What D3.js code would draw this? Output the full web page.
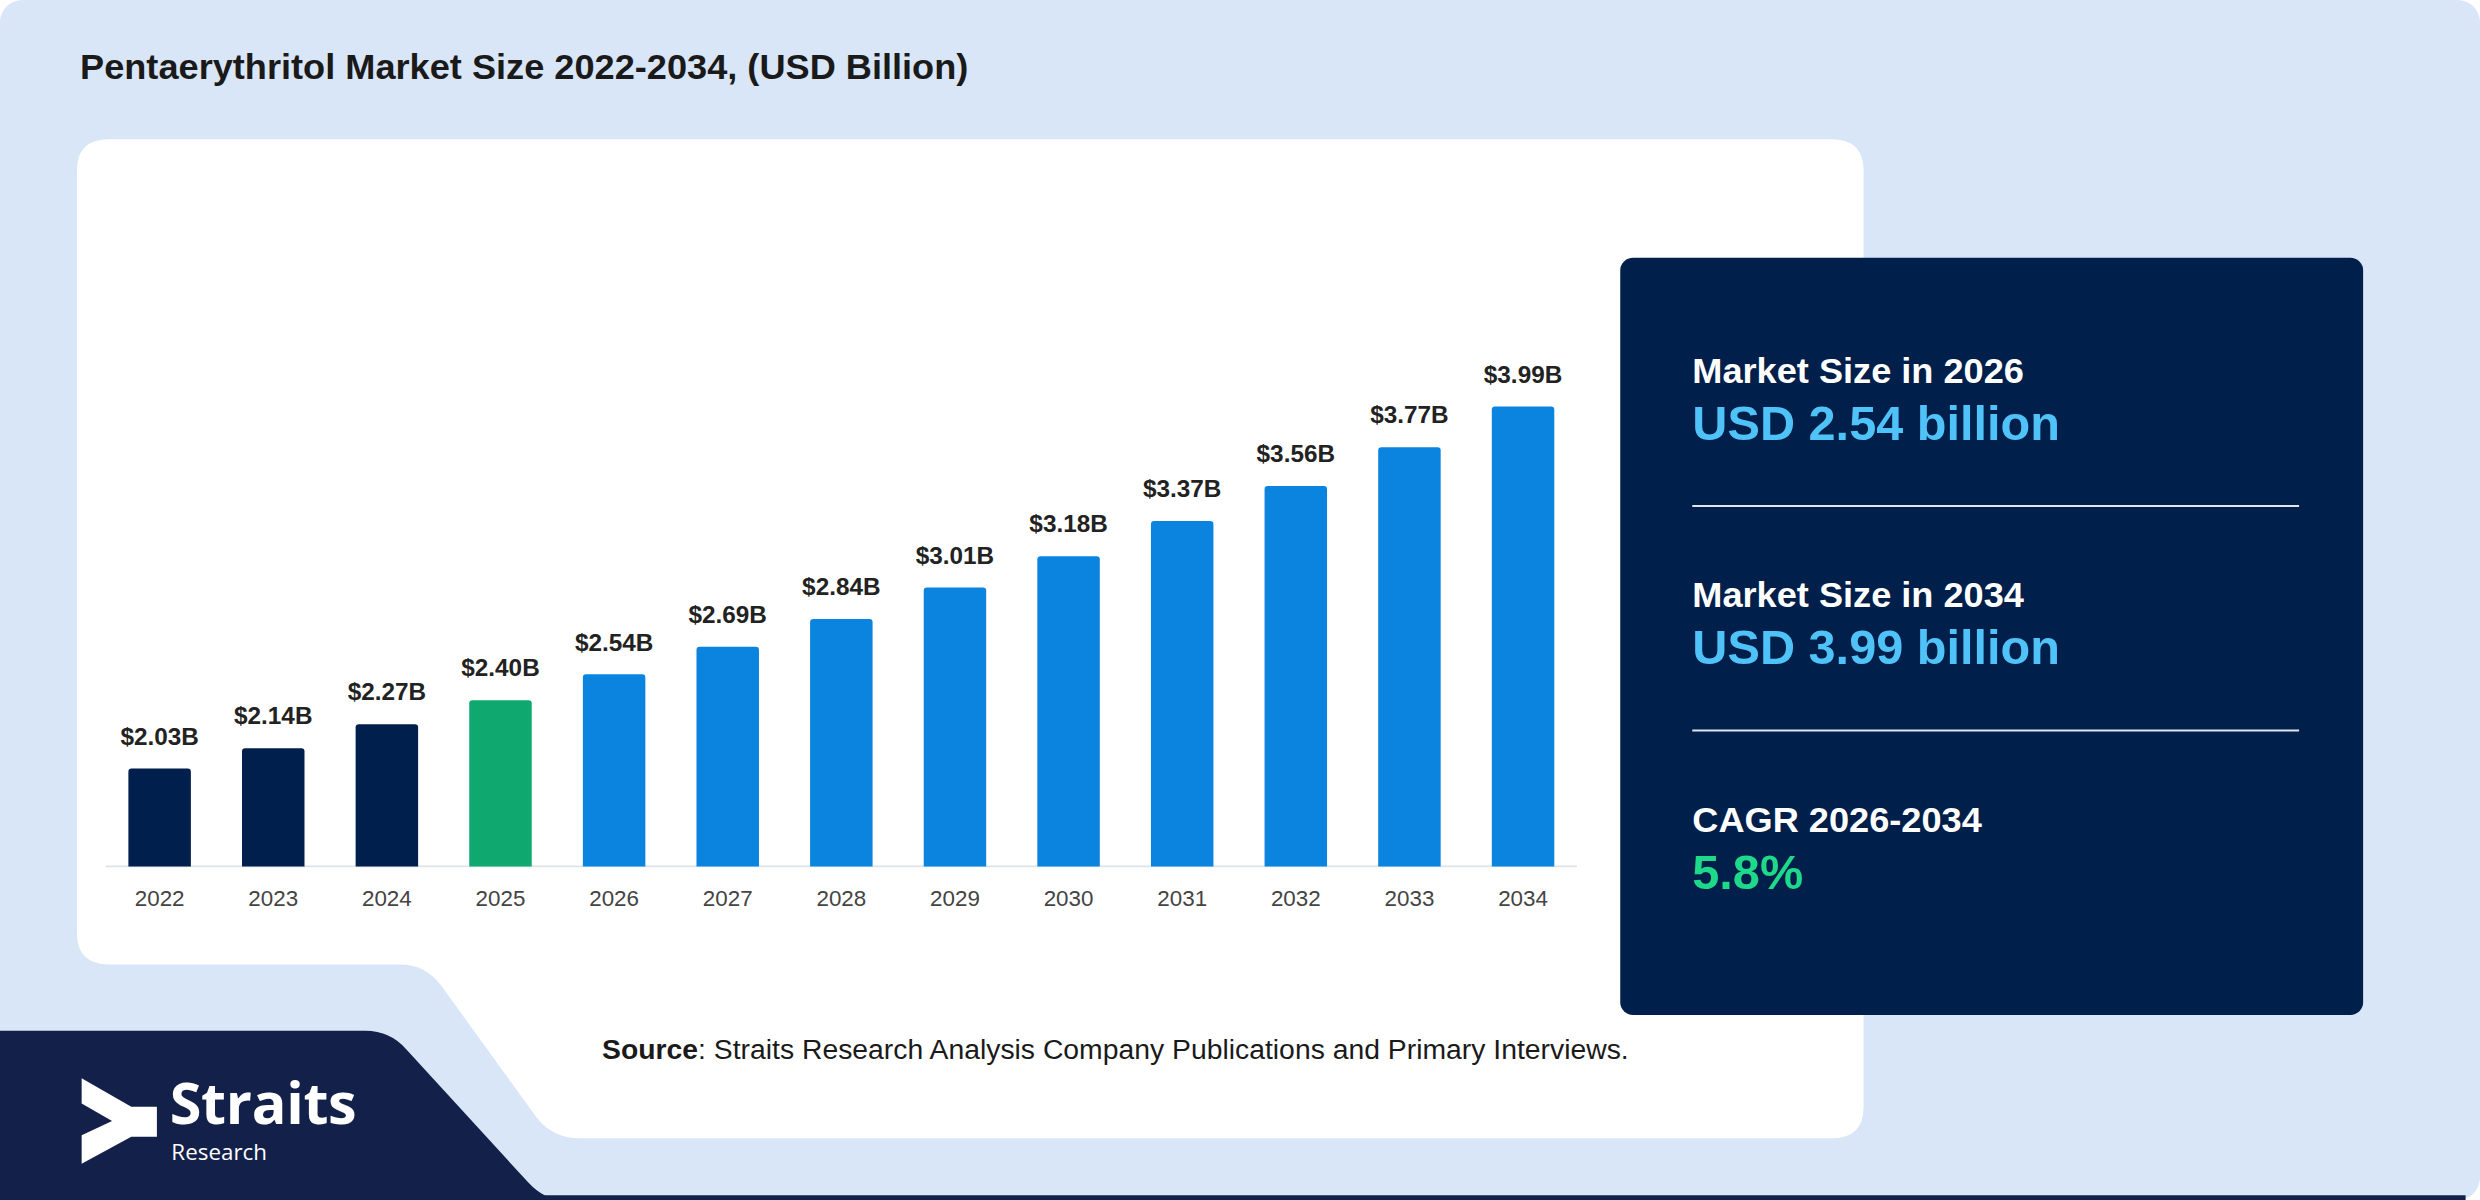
<!DOCTYPE html>
<html><head><meta charset="utf-8">
<script src="https://cdn.jsdelivr.net/npm/d3@7"></script>
<style>html,body{margin:0;padding:0;background:#fff;}svg{display:block;}</style>
</head><body>
<svg id="c" width="2480" height="1200" viewBox="0 0 1549 759" preserveAspectRatio="none"></svg>
<script>
const years = ["2022","2023","2024","2025","2026","2027","2028","2029","2030","2031","2032","2033","2034"];
const values = [2.03,2.14,2.27,2.40,2.54,2.69,2.84,3.01,3.18,3.37,3.56,3.77,3.99];
const barKinds = ["hist","hist","hist","base","fc","fc","fc","fc","fc","fc","fc","fc","fc"];
const kindColors = {hist:"#001f4d", base:"#0fa86f", fc:"#0b84e0"};
const cardLabels = ["Market Size in 2026","Market Size in 2034","CAGR 2026-2034"];
const cardValues = ["USD 2.54 billion","USD 3.99 billion","5.8%"];
const cardValueColors = ["#4fc3f7","#4fc3f7","#1ed98a"];

const svg = d3.select("#c");
const F = "'Liberation Sans', Arial, sans-serif";
svg.append("rect").attr("x",0).attr("y",0).attr("width",1549).attr("height",759).attr("rx",14).attr("fill","#d9e6f8");
svg.append("path").attr("fill","#fff").attr("d",
 "M68,88 H1144 Q1164,88 1164,108 V700 Q1164,720 1144,720 H362 Q346,720 336,708 L276,624 Q266,610 250,610 H68 Q48,610 48,590 V108 Q48,88 68,88 Z");
svg.append("path").attr("fill","#13204a").attr("d",
 "M0,652 H228 Q244,652 254,664 L330,748 Q340,759 352,759 H0 Z");
svg.append("rect").attr("x",340).attr("y",756).attr("width",1200).attr("height",3).attr("fill","#13204a");

svg.append("text").attr("x",50).attr("y",50).attr("font-family",F).attr("font-weight","bold").attr("font-size",22.6).attr("fill","#1a1a1a")
 .text("Pentaerythritol Market Size 2022-2034, (USD Billion)");

const x = d3.scaleBand().domain(years).range([66,985]).paddingInner(0.45).paddingOuter(0.2);
const y = d3.scaleLinear().domain([1.5,4.0]).range([548,256]);
const g = svg.append("g");
g.append("line").attr("x1",66).attr("x2",985).attr("y1",548).attr("y2",548).attr("stroke","#dde3ea").attr("stroke-width",1.2);
g.selectAll(".bar").data(values).join("path").attr("fill",(d,i)=>kindColors[barKinds[i]])
 .attr("d",(d,i)=>{const x0=x(years[i]),w=x.bandwidth(),t=y(d),b=y.range()[0],r=2;
   return `M${x0},${b} V${t+r} Q${x0},${t} ${x0+r},${t} H${x0+w-r} Q${x0+w},${t} ${x0+w},${t+r} V${b} Z`;});
g.selectAll(".lbl").data(values).join("text").attr("x",(d,i)=>x(years[i])+x.bandwidth()/2).attr("y",d=>y(d)-15)
 .attr("text-anchor","middle").attr("font-family",F).attr("font-weight","bold").attr("font-size",15.2).attr("fill","#222")
 .text(d=>"$"+d.toFixed(2)+"B");
const ax = g.append("g").attr("transform","translate(0,548)").call(d3.axisBottom(x).tickSize(0).tickPadding(15));
ax.select(".domain").remove();
ax.selectAll("text").attr("font-family",F).attr("font-size",14).attr("fill","#444");

svg.append("rect").attr("x",1012).attr("y",163).attr("width",464).attr("height",479).attr("rx",8).attr("fill","#001f4a");
cardLabels.forEach((l,i)=>{
  const oy = 242 + i*142;
  svg.append("text").attr("x",1057).attr("y",oy).attr("font-family",F).attr("font-weight","bold").attr("font-size",22.6).attr("fill","#fff").text(l);
  svg.append("text").attr("x",1057).attr("y",oy+36).attr("font-family",F).attr("font-weight","bold").attr("font-size",30.4).attr("fill",cardValueColors[i]).text(cardValues[i]);
  if(i<2) svg.append("line").attr("x1",1057).attr("x2",1436).attr("y1",oy+78).attr("y2",oy+78).attr("stroke","#e0e6ef").attr("stroke-width",1.2);
});

const src = svg.append("text").attr("x",376).attr("y",670).attr("font-family",F).attr("font-size",17.7).attr("fill","#1a1a1a");
src.append("tspan").attr("font-weight","bold").text("Source");
src.append("tspan").text(": Straits Research Analysis Company Publications and Primary Interviews.");

svg.append("path").attr("fill","#fff").attr("d","M51,682 L82,700 H98 V719 H82 L51,736 V718 L70,709 L51,698 Z");
svg.append("text").attr("x",106).attr("y",711).attr("font-family","'Open Sans', sans-serif").attr("font-weight","bold").attr("font-size",36).attr("fill","#fff").attr("letter-spacing",-0.2).text("Straits");
svg.append("text").attr("x",107).attr("y",734).attr("font-family","'Open Sans', sans-serif").attr("font-size",14).attr("fill","#fff").text("Research");
</script>
</body></html>
